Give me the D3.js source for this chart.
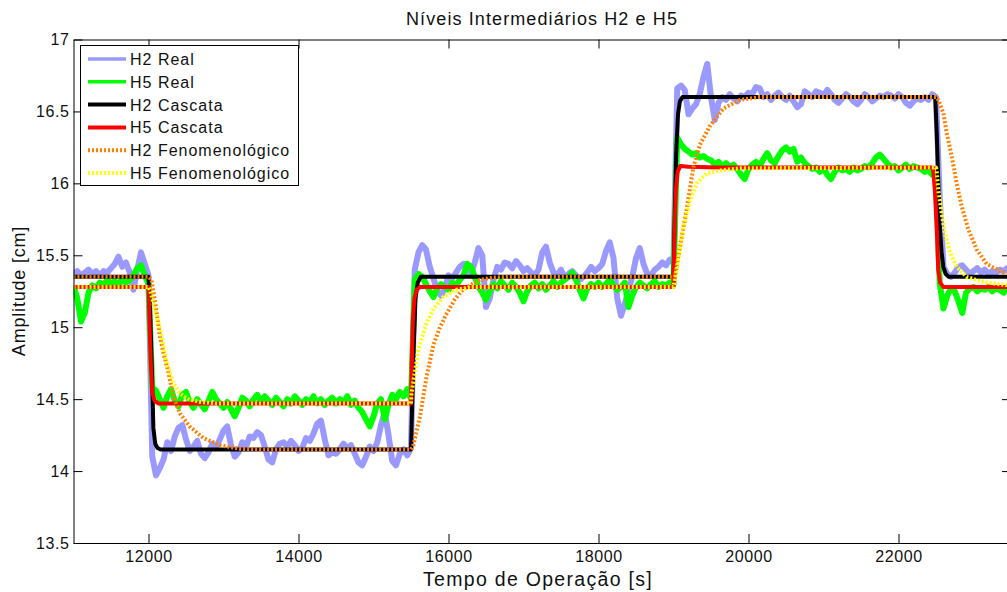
<!DOCTYPE html>
<html><head><meta charset="utf-8">
<script src="https://cdn.jsdelivr.net/npm/d3@7"></script>
<style>
body{margin:0;background:#fff;}
svg{display:block;font-family:"Liberation Sans",Arial,Helvetica,sans-serif;}
</style>
</head><body>
<svg id="chart" width="1007" height="592"></svg>
<script>
// ---------------- DATA ----------------
const chartTitle = "Níveis Intermediários H2 e H5";
const xLabel = "Tempo de Operação [s]";
const yLabel = "Amplitude [cm]";
const xDomain = [11000, 23500];
const yDomain = [13.5, 17];
const xTicks = [12000, 14000, 16000, 18000, 20000, 22000];
const yTicks = [13.5, 14, 14.5, 15, 15.5, 16, 16.5, 17];
const seriesNames = ["H2 Real", "H5 Real", "H2 Cascata", "H5 Cascata", "H2 Fenomenológico", "H5 Fenomenológico"];

// measured data: one sample every 50 s starting at 11000 s
const realStart = 11000;
const realStep = 50;
const h2Real = [
  15.37, 15.39, 15.36, 15.38, 15.40, 15.37, 15.39, 15.36, 15.39, 15.38,
  15.41, 15.44, 15.49, 15.42, 15.45, 15.38, 15.26, 15.40, 15.52, 15.44,
  15.36, 14.10, 13.97, 14.02, 14.08, 14.20, 14.14, 14.24, 14.30, 14.32,
  14.22, 14.14, 14.17, 14.21, 14.12, 14.09, 14.13, 14.19, 14.16, 14.22,
  14.28, 14.31, 14.18, 14.10, 14.13, 14.20, 14.17, 14.24, 14.23, 14.27,
  14.25, 14.17, 14.08, 14.06, 14.15, 14.19, 14.20, 14.17, 14.21, 14.18,
  14.14, 14.16, 14.23, 14.21, 14.26, 14.33, 14.35, 14.22, 14.11, 14.13,
  14.12, 14.15, 14.19, 14.16, 14.18, 14.12, 14.06, 14.04, 14.10, 14.17,
  14.14, 14.20, 14.32, 14.41, 14.25, 14.07, 14.04, 14.12, 14.15, 14.11,
  14.16, 15.40, 15.52, 15.57, 15.54, 15.42, 15.34, 15.25, 15.22, 15.27,
  15.36, 15.34, 15.38, 15.42, 15.44, 15.40, 15.37, 15.45, 15.55, 15.50,
  15.14, 15.20, 15.33, 15.42, 15.40, 15.45, 15.44, 15.41, 15.46, 15.43,
  15.39, 15.41, 15.38, 15.36, 15.40, 15.52, 15.56, 15.45, 15.38, 15.36,
  15.40, 15.34, 15.37, 15.39, 15.36, 15.33, 15.35, 15.38, 15.42, 15.39,
  15.41, 15.44, 15.53, 15.59, 15.48, 15.20, 15.08, 15.16, 15.26, 15.35,
  15.48, 15.55, 15.44, 15.37, 15.36, 15.40, 15.42, 15.45, 15.43, 15.47,
  15.45, 16.66, 16.68, 16.65, 16.48, 16.52, 16.55, 16.62, 16.74, 16.83,
  16.60, 16.44, 16.56, 16.60, 16.58, 16.62, 16.59, 16.57, 16.61, 16.60,
  16.63, 16.62, 16.67, 16.66, 16.60, 16.62, 16.58, 16.61, 16.63, 16.60,
  16.58, 16.61, 16.57, 16.53, 16.55, 16.64, 16.62, 16.60, 16.64, 16.63,
  16.61, 16.65, 16.62, 16.58, 16.56, 16.59, 16.62, 16.60, 16.57, 16.55,
  16.58, 16.62, 16.60, 16.57, 16.59, 16.61, 16.60, 16.62, 16.61, 16.59,
  16.62, 16.60, 16.56, 16.54, 16.57, 16.59, 16.58, 16.60, 16.58, 16.62,
  16.60, 15.90, 15.42, 15.37, 15.35, 15.38, 15.42, 15.43, 15.40, 15.37,
  15.39, 15.41, 15.38, 15.40, 15.37, 15.39, 15.38, 15.40, 15.39, 15.41,
  15.38
];
const h5Real = [
  15.29, 15.20, 15.04, 15.10, 15.24, 15.29, 15.27, 15.31, 15.29, 15.33,
  15.30, 15.32, 15.29, 15.34, 15.31, 15.33, 15.36, 15.41, 15.43, 15.36,
  15.30, 14.58, 14.56, 14.50, 14.44, 14.52, 14.57, 14.49, 14.45, 14.53,
  14.55, 14.48, 14.44, 14.50, 14.46, 14.43, 14.49, 14.55, 14.50, 14.47,
  14.44, 14.48, 14.43, 14.38, 14.44, 14.51, 14.49, 14.45, 14.50, 14.53,
  14.48, 14.52, 14.49, 14.46, 14.51, 14.48, 14.45, 14.50, 14.47, 14.52,
  14.49, 14.46, 14.50, 14.48, 14.52, 14.47, 14.50, 14.46, 14.49, 14.51,
  14.47, 14.50, 14.48, 14.52, 14.46, 14.49, 14.44, 14.41, 14.36, 14.31,
  14.38, 14.47, 14.50, 14.36, 14.46, 14.53, 14.50, 14.55, 14.52, 14.57,
  14.50, 15.33, 15.37, 15.35, 15.30, 15.25, 15.21, 15.27, 15.30, 15.28,
  15.26, 15.31, 15.29, 15.33, 15.36, 15.44, 15.42, 15.35, 15.28, 15.24,
  15.19, 15.25, 15.30, 15.27, 15.32, 15.29, 15.26, 15.31, 15.28, 15.24,
  15.18, 15.25, 15.29, 15.31, 15.27, 15.30, 15.26, 15.29, 15.32, 15.28,
  15.31, 15.33, 15.35, 15.38, 15.33, 15.26, 15.20, 15.27, 15.30, 15.28,
  15.31, 15.28, 15.30, 15.33, 15.29, 15.26, 15.28, 15.31, 15.14, 15.22,
  15.28, 15.31, 15.29, 15.27, 15.30, 15.32, 15.28, 15.30, 15.29, 15.31,
  15.30, 16.32, 16.27, 16.24, 16.22, 16.20, 16.21, 16.18, 16.19, 16.17,
  16.16, 16.13, 16.15, 16.12, 16.14, 16.11, 16.13, 16.10, 16.06, 16.03,
  16.10, 16.13, 16.15, 16.12, 16.17, 16.21, 16.16, 16.14, 16.19, 16.23,
  16.25, 16.22, 16.24, 16.15, 16.18, 16.14, 16.12, 16.10, 16.11, 16.08,
  16.10, 16.06, 16.03, 16.08, 16.11, 16.09, 16.10, 16.08, 16.11, 16.09,
  16.10, 16.12, 16.11, 16.14, 16.18, 16.20, 16.17, 16.14, 16.11, 16.12,
  16.09, 16.11, 16.13, 16.10, 16.12, 16.11, 16.10, 16.08, 16.09, 16.06,
  16.05, 15.30, 15.13, 15.22, 15.27, 15.25, 15.18, 15.10, 15.24, 15.27,
  15.28, 15.25, 15.27, 15.26, 15.28, 15.25, 15.27, 15.26, 15.24, 15.27,
  15.26
];

// model responses: [time, level]
const h2Cascata = [
  [11000, 15.35], [12000, 15.35], [12025, 15.05], [12045, 14.70], [12065, 14.30], [12090, 14.19],
  [12120, 14.16], [12160, 14.15], [15500, 14.15], [15515, 14.45], [15535, 14.85], [15560, 15.20],
  [15590, 15.31], [15630, 15.35], [19000, 15.35], [19015, 15.75], [19035, 16.20], [19060, 16.48],
  [19085, 16.57], [19120, 16.60], [22490, 16.60], [22510, 16.35], [22530, 16.02], [22553, 15.68],
  [22575, 15.52], [22597, 15.42], [22630, 15.37], [22670, 15.35], [23500, 15.35]
];
const h5Cascata = [
  [11000, 15.28], [12000, 15.28], [12015, 15.00], [12030, 14.75], [12050, 14.55], [12080, 14.49],
  [12130, 14.47], [15500, 14.47], [15510, 14.75], [15525, 15.05], [15545, 15.20], [15575, 15.26],
  [15620, 15.28], [19000, 15.28], [19012, 15.60], [19030, 15.95], [19055, 16.08], [19090, 16.12],
  [19200, 16.115], [19600, 16.11], [22460, 16.11], [22485, 15.95], [22510, 15.68], [22530, 15.40],
  [22555, 15.31], [22600, 15.28], [23500, 15.28]
];
const h2Fenomenologico = [
  [11000, 15.35], [12000, 15.35], [12040, 15.33], [12090, 15.17], [12150, 14.94], [12200, 14.82],
  [12260, 14.70], [12330, 14.52], [12420, 14.40], [12550, 14.31], [12730, 14.23], [12950, 14.18],
  [13220, 14.155], [13500, 14.15], [15500, 14.15], [15527, 14.17], [15620, 14.38], [15709, 14.66],
  [15800, 14.88], [15880, 14.99], [15960, 15.08], [16080, 15.19], [16170, 15.25], [16250, 15.28],
  [16420, 15.33], [16600, 15.345], [16800, 15.35], [19000, 15.35], [19020, 15.35], [19087, 15.56],
  [19176, 15.82], [19264, 16.11], [19353, 16.27], [19487, 16.40], [19664, 16.52], [19887, 16.58],
  [20153, 16.60], [22500, 16.60], [22531, 16.58], [22597, 16.49], [22643, 16.35], [22709, 16.19],
  [22776, 16.00], [22843, 15.84], [22931, 15.68], [23043, 15.54], [23176, 15.44], [23353, 15.39],
  [23500, 15.37]
];
const h5Fenomenologico = [
  [11000, 15.28], [12000, 15.28], [12025, 15.25], [12110, 15.08], [12180, 14.92], [12243, 14.75],
  [12331, 14.61], [12420, 14.54], [12530, 14.50], [12690, 14.48], [12900, 14.47], [15500, 14.47],
  [15510, 14.55], [15600, 14.85], [15700, 15.02], [15800, 15.13], [15930, 15.21], [16100, 15.26],
  [16330, 15.28], [19000, 15.28], [19064, 15.47], [19131, 15.70], [19220, 15.88], [19309, 16.00],
  [19443, 16.07], [19620, 16.09], [19887, 16.105], [22500, 16.11], [22509, 16.09], [22531, 15.95],
  [22576, 15.79], [22620, 15.65], [22687, 15.52], [22776, 15.42], [22909, 15.35], [23087, 15.32],
  [23309, 15.30], [23500, 15.29]
];

// ---------------- CHART ----------------
const svg = d3.select("#chart");
const W = 1007, H = 592;
const m = {left: 73.5, top: 39.5, bottom: 543, right: 1011};
const x = d3.scaleLinear().domain(xDomain).range([m.left, m.right]);
const y = d3.scaleLinear().domain(yDomain).range([m.bottom, m.top]);

svg.append("rect").attr("width", W).attr("height", H).attr("fill", "#fff");

svg.append("defs").append("clipPath").attr("id", "clip")
  .append("rect").attr("x", m.left).attr("y", m.top)
  .attr("width", m.right - m.left).attr("height", m.bottom - m.top);

const toPairs = arr => arr.map((v, i) => [realStart + i * realStep, v]);
const line = d3.line().x(d => x(d[0])).y(d => y(d[1]));

const styles = [
  {data: toPairs(h2Real), color: "#9999ff", width: 6, legendWidth: 3.5, dash: null},
  {data: toPairs(h5Real), color: "#00ff00", width: 6, legendWidth: 3.5, dash: null},
  {data: h2Cascata, color: "#000000", width: 4, legendWidth: 4, dash: null},
  {data: h5Cascata, color: "#ff0000", width: 4, legendWidth: 4, dash: null},
  {data: h2Fenomenologico, color: "#ff8000", width: 4, legendWidth: 4, dash: "2,2"},
  {data: h5Fenomenologico, color: "#ffff00", width: 4, legendWidth: 4, dash: "2,2"}
];

const plot = svg.append("g").attr("clip-path", "url(#clip)");
styles.forEach(s => {
  plot.append("path").datum(s.data)
    .attr("d", line)
    .attr("fill", "none")
    .attr("stroke", s.color)
    .attr("stroke-width", s.width)
    .attr("stroke-linejoin", "round")
    .attr("stroke-dasharray", s.dash);
});

// axes
const fontSize = 16;
function styleAxis(g) {
  g.select(".domain").attr("stroke", "#000").attr("stroke-width", 1);
  g.selectAll(".tick line").attr("stroke", "#000").attr("stroke-width", 1);
  g.selectAll(".tick text").attr("fill", "#111").attr("font-size", fontSize)
    .attr("font-family", "'Liberation Sans', Arial, sans-serif").attr("letter-spacing", 0.6);
}
svg.append("g").attr("transform", `translate(0,${m.bottom})`)
  .call(d3.axisBottom(x).tickValues(xTicks).tickSizeInner(-9).tickSizeOuter(0).tickPadding(8).tickFormat(d3.format("d")))
  .call(styleAxis);
svg.append("g").attr("transform", `translate(0,${m.top})`)
  .call(d3.axisTop(x).tickValues(xTicks).tickSizeInner(-9).tickSizeOuter(0).tickFormat(""))
  .call(styleAxis);
svg.append("g").attr("transform", `translate(${m.left},0)`)
  .call(d3.axisLeft(y).tickValues(yTicks).tickSizeInner(-9).tickSizeOuter(0).tickPadding(4).tickFormat(d => d3.format("")(d)))
  .call(styleAxis);
svg.append("g").attr("transform", `translate(${m.right},0)`)
  .call(d3.axisRight(y).tickValues(yTicks).tickSizeInner(-9).tickSizeOuter(0).tickFormat(""))
  .call(styleAxis);

// titles
svg.append("text").attr("x", 542).attr("y", 25).attr("text-anchor", "middle")
  .attr("font-size", 18).attr("letter-spacing", 1.1).attr("fill", "#111").text(chartTitle);
svg.append("text").attr("x", 538).attr("y", 586).attr("text-anchor", "middle")
  .attr("font-size", 19.5).attr("letter-spacing", 1.3).attr("fill", "#111").text(xLabel);
svg.append("text").attr("transform", "translate(25,291) rotate(-90)").attr("text-anchor", "middle")
  .attr("font-size", 18).attr("letter-spacing", 0.8).attr("fill", "#111").text(yLabel);

// legend
const lg = svg.append("g");
lg.append("rect").attr("x", 80.5).attr("y", 45.5).attr("width", 218).attr("height", 140)
  .attr("fill", "#fff").attr("stroke", "#000").attr("stroke-width", 1);
seriesNames.forEach((name, i) => {
  const cy = 59 + i * 22.8;
  const s = styles[i];
  lg.append("line").attr("x1", 88).attr("x2", 126).attr("y1", cy).attr("y2", cy)
    .attr("stroke", s.color).attr("stroke-width", s.legendWidth).attr("stroke-dasharray", s.dash);
  lg.append("text").attr("x", 130).attr("y", cy + 6).attr("font-size", 16)
    .attr("letter-spacing", 1).attr("fill", "#111").text(name);
});
</script>
</body></html>
